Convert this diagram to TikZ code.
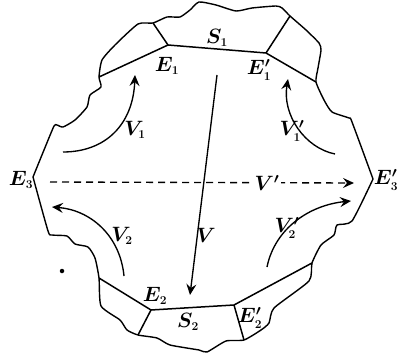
\documentclass[tikz,border=0pt]{standalone}
\usetikzlibrary{arrows.meta}
\newcommand{\low}[1]{_{\scriptscriptstyle #1}}
\begin{document}
\begin{tikzpicture}[
    x=1pt, y=-1pt,
    edge/.style={line width=1.5pt, line join=round},
    rim/.style={line width=1.4pt, line join=round, smooth, tension=0.35},
    flow/.style={line width=1.35pt, -{Stealth[length=11pt, width=10pt, inset=4pt]}},
    every node/.style={inner sep=0pt, font=\huge\bfseries\boldmath}]
  \useasboundingbox (0,0) rectangle (398,355);
  % corners of the two sections
  \coordinate (A1) at (99,77);
  \coordinate (B1) at (168,45);
  \coordinate (C1) at (153,23);
  \coordinate (B2) at (266,53);
  \coordinate (C2) at (290,16);
  \coordinate (A2) at (316,82);
  \coordinate (A3) at (99,278);
  \coordinate (B3) at (151,310);
  \coordinate (C3) at (138,335);
  \coordinate (B4) at (234,305);
  \coordinate (C4) at (244,340);
  \coordinate (A4) at (312,263);
  \coordinate (L) at (33,177);
  \coordinate (R) at (373,179);
  % rough outer rim
  \draw[rim] plot coordinates {(L) (44,150) (54,126) (57,125) (63,127) (75,120) (87,107)
    (90,95) (101,87) (A1) (102,60) (115,45) (138,24) (C1) (167,17) (180,17) (190,10)
    (199,2) (216,5) (236,11) (252,8) (276,6) (282,8) (C2) (306,30) (319,43) (321,50)
    (318,68) (A2) (324,100) (332,112) (349,118) (352,122) (R)};
  \draw[rim] plot coordinates {(L) (48,231) (52,235) (67,236) (75,244) (88,247) (95,258)
    (A3) (101,306) (120,320) (127,330) (C3) (157,338) (170,345) (199,350) (207,352)
    (226,341) (C4) (261,330) (269,323) (274,308) (309,281) (A4) (321,245) (334,235)
    (337,225) (352,221) (R)};
  % sections
  \draw[edge] (A1) -- (B1) -- (B2) -- (A2);
  \draw[edge] (B1) -- (C1);
  \draw[edge] (B2) -- (C2);
  \draw[edge] (A3) -- (B3) -- (B4) -- (A4);
  \draw[edge] (B3) -- (C3);
  \draw[edge] (B4) -- (C4);
  % velocities
  \coordinate (Vs) at (217,75);
  \coordinate (Ve) at (190,295);
  \coordinate (Ws) at (50,182);
  \coordinate (We) at (354,183);
  \coordinate (V1s) at (63,152);
  \coordinate (V1e) at (135,75);
  \coordinate (U1s) at (335,154);
  \coordinate (U1e) at (288,79);
  \coordinate (V2s) at (124,276);
  \coordinate (V2e) at (52,207);
  \coordinate (U2s) at (267,267);
  \coordinate (U2e) at (351,201);
  \draw[flow] (Vs) -- (Ve);
  \draw[flow, dash pattern=on 7pt off 5pt] (Ws) -- (We);
  \draw[flow] (V1s) .. controls (105,152) and (133,125) .. (V1e);
  \draw[flow] (U1s) .. controls (305,148) and (282,115) .. (U1e);
  \draw[flow] (V2s) .. controls (120,235) and (90,210) .. (V2e);
  \draw[flow] (U2s) .. controls (275,228) and (310,205) .. (U2e);
  % labels
  \node (labS1) at (217,38) {$S\low{1}$};
  \node (labS2) at (188,322) {$S\low{2}$};
  \node (labE1) at (167,66) {$E\low{1}$};
  \node (labF1) at (259,70) {$E'\low{1}$};
  \node (labE2) at (155,296) {$E\low{2}$};
  \node (labF2) at (250,318) {$E'\low{2}$};
  \node (labE3) at (21,180) {$E\low{3}$};
  \node (labF3) at (386,180) {$E'\low{3}$};
  \node (labV1) at (135,130) {$V\low{1}$};
  \node (labU1) at (292,131) {$V'\low{1}$};
  \node (labV2) at (122,236) {$V\low{2}$};
  \node (labU2) at (287,228) {$V'\low{2}$};
  \node (labV) at (206,235) {$V$};
  \node[fill=white, inner xsep=2pt, inner ysep=1pt] (labW) at (267,183) {$V'$};
  \node[circle, fill, minimum size=4.5pt] (dot) at (62,271) {};
\end{tikzpicture}
\end{document}
